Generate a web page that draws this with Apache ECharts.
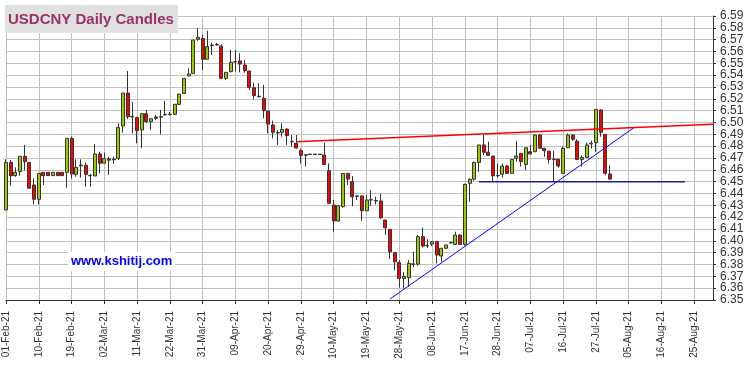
<!DOCTYPE html>
<html>
<head>
<meta charset="utf-8">
<script src="https://cdn.jsdelivr.net/npm/echarts@6/dist/echarts.min.js"></script>
<style>
html,body{margin:0;padding:0;background:#ffffff;}
#chart{width:750px;height:366px;}
</style>
</head>
<body>
<div id="chart"></div>
<script>
// ---- data ----
const startDate = '2021-02-01';   // first trading day (weekdays only)
const categoryCount = 152;         // weekdays shown on the axis
const titleText = 'USDCNY Daily Candles';
const watermarkText = 'www.kshitij.com';

const openValues = [
6.4261,6.4663,6.4551,6.4585,6.4714,6.4663,6.4472,6.4351,6.4579,6.4579,
6.4551,6.4579,6.4579,6.4579,6.4866,6.4562,6.4634,6.4638,6.4553,6.4548,
6.4734,6.4656,6.4693,6.4690,6.4697,6.4970,6.5249,6.5051,6.5043,6.4937,
6.5075,6.5007,6.5047,6.5045,6.5064,6.5068,6.5070,6.5153,6.5245,6.5393,
6.5415,6.5703,6.5710,6.5534,6.5650,6.5655,6.5646,6.5373,6.5430,6.5512,
6.5520,6.5486,6.5435,6.5294,6.5222,6.5204,6.5097,6.4979,6.4915,6.4917,
6.4945,6.4840,6.4824,6.4762,6.4727,6.4733,6.4733,6.4733,6.4725,6.4593,
6.4302,6.4168,6.4289,6.4570,6.4500,6.4379,6.4379,6.4254,6.4345,6.4340,
6.4337,6.4176,6.4097,6.3900,6.3818,6.3682,6.3689,6.3800,6.3803,6.4035,
6.3962,6.3973,6.3993,6.3872,6.3937,6.3984,6.3970,6.4049,6.3970,6.4486,
6.4521,6.4663,6.4810,6.4749,6.4716,6.4553,6.4563,6.4632,6.4570,6.4697,
6.4739,6.4646,6.4753,6.4753,6.4894,6.4782,6.4758,6.4690,6.4689,6.4570,
6.4787,6.4894,6.4843,6.4688,6.4705,6.4819,6.4830,6.5106,6.4900,6.4565
];
const highValues = [
6.4689,6.4683,6.4621,6.4714,6.4810,6.4663,6.4528,6.4570,6.4579,6.4579,
6.4579,6.4579,6.4579,6.4866,6.4880,6.4689,6.4689,6.4663,6.4565,6.4818,
6.4753,6.4745,6.4710,6.4710,6.4993,6.5249,6.5435,6.5173,6.5047,6.5075,
6.5105,6.5032,6.5063,6.5105,6.5182,6.5090,6.5154,6.5241,6.5373,6.5458,
6.5697,6.5796,6.5740,6.5775,6.5674,6.5674,6.5660,6.5424,6.5613,6.5613,
6.5585,6.5528,6.5435,6.5337,6.5331,6.5317,6.5097,6.5015,6.4937,6.4993,
6.4950,6.4894,6.4894,6.4781,6.4730,6.4733,6.4733,6.4733,6.4830,6.4654,
6.4345,6.4297,6.4570,6.4570,6.4548,6.4382,6.4382,6.4387,6.4430,6.4373,
6.4396,6.4176,6.4097,6.3900,6.3838,6.3734,6.3838,6.3908,6.4049,6.4111,
6.4013,6.3993,6.3995,6.3937,6.3965,6.3990,6.4077,6.4055,6.4483,6.4529,
6.4670,6.4810,6.4894,6.4838,6.4716,6.4654,6.4654,6.4640,6.4688,6.4844,
6.4739,6.4787,6.4810,6.4900,6.4900,6.4785,6.4760,6.4762,6.4695,6.4796,
6.4908,6.4900,6.4858,6.4725,6.4830,6.4845,6.5111,6.5110,6.4900,6.4638
];
const lowValues = [
6.4261,6.4466,6.4542,6.4551,6.4596,6.4444,6.4308,6.4308,6.4472,6.4551,
6.4551,6.4551,6.4551,6.4449,6.4528,6.4542,6.4535,6.4458,6.4458,6.4548,
6.4570,6.4656,6.4556,6.4650,6.4683,6.4914,6.5030,6.4908,6.4824,6.4782,
6.4995,6.4937,6.5020,6.4899,6.5060,6.5058,6.5064,6.5153,6.5245,6.5390,
6.5415,6.5690,6.5444,6.5534,6.5570,6.5650,6.5373,6.5360,6.5424,6.5430,
6.5424,6.5421,6.5275,6.5196,6.5210,6.5035,6.4908,6.4866,6.4810,6.4880,
6.4810,6.4795,6.4781,6.4654,6.4627,6.4727,6.4727,6.4727,6.4640,6.4310,
6.4077,6.4160,6.4280,6.4472,6.4294,6.4345,6.4170,6.4250,6.4297,6.4308,
6.4185,6.4050,6.3846,6.3750,6.3606,6.3599,6.3613,6.3780,6.3790,6.3945,
6.3940,6.3955,6.3810,6.3824,6.3930,6.3975,6.3965,6.3965,6.3960,6.4331,
6.4508,6.4584,6.4725,6.4718,6.4495,6.4535,6.4535,6.4565,6.4565,6.4668,
6.4627,6.4598,6.4730,6.4750,6.4780,6.4711,6.4654,6.4505,6.4618,6.4570,
6.4785,6.4845,6.4682,6.4627,6.4700,6.4780,6.4753,6.4880,6.4555,6.4515
];
const closeValues = [
6.4663,6.4551,6.4579,6.4714,6.4669,6.4444,6.4351,6.4570,6.4551,6.4551,
6.4579,6.4551,6.4551,6.4866,6.4565,6.4621,6.4640,6.4562,6.4550,6.4734,
6.4656,6.4697,6.4682,6.4685,6.4959,6.5249,6.5049,6.5047,6.4931,6.5075,
6.5007,6.5032,6.5036,6.5050,6.5068,6.5070,6.5154,6.5241,6.5373,6.5410,
6.5697,6.5720,6.5534,6.5641,6.5655,6.5660,6.5373,6.5424,6.5509,6.5515,
6.5494,6.5438,6.5297,6.5227,6.5218,6.5100,6.4987,6.4917,6.4912,6.4942,
6.4889,6.4837,6.4784,6.4722,6.4724,6.4729,6.4729,6.4729,6.4646,6.4317,
6.4168,6.4297,6.4570,6.4522,6.4373,6.4376,6.4254,6.4345,6.4348,6.4337,
6.4196,6.4111,6.3908,6.3824,6.3682,6.3700,6.3810,6.3806,6.4035,6.3956,
6.3959,6.3993,6.3880,6.3937,6.3965,6.3987,6.4049,6.3970,6.4477,6.4520,
6.4663,6.4810,6.4748,6.4722,6.4550,6.4550,6.4632,6.4570,6.4688,6.4716,
6.4669,6.4787,6.4734,6.4894,6.4782,6.4762,6.4688,6.4686,6.4632,6.4782,
6.4894,6.4858,6.4688,6.4705,6.4810,6.4824,6.5111,6.4917,6.4571,6.4522
];

// trend lines: [category index, price]
const resistanceLine = [[62, 6.4838], [151, 6.4985]];
const risingSupportLine = [[82, 6.3508], [134, 6.4953]];
const horizontalSupportLine = [[101, 6.45], [145, 6.45]];

const yMin = 6.35, yMax = 6.59, yStep = 0.01;
const labelEvery = 7;

// ---- build categories (weekdays) ----
const monthNames = ['Jan','Feb','Mar','Apr','May','Jun','Jul','Aug','Sep','Oct','Nov','Dec'];
function buildCategories(start, n) {
  const out = [];
  const d = new Date(start + 'T00:00:00Z');
  while (out.length < n) {
    const wd = d.getUTCDay();
    if (wd !== 0 && wd !== 6) {
      const dd = String(d.getUTCDate()).padStart(2, '0');
      const yy = String(d.getUTCFullYear()).slice(2);
      out.push(dd + '-' + monthNames[d.getUTCMonth()] + '-' + yy);
    }
    d.setUTCDate(d.getUTCDate() + 1);
  }
  return out;
}
const categories = buildCategories(startDate, categoryCount);
const candleData = openValues.map((o, i) => [o, closeValues[i], lowValues[i], highValues[i]]);

const chart = echarts.init(document.getElementById('chart'), null, {renderer: 'canvas'});
const font = "Arial, 'Liberation Sans', sans-serif";
chart.setOption({
  animation: false,
  backgroundColor: '#ffffff',
  title: [{
    text: titleText,
    left: 5, top: 5,
    backgroundColor: '#e0e0e0',
    padding: [7, 4, 6, 3],
    textStyle: {color: '#993366', fontSize: 15, fontWeight: 'bold', fontFamily: font}
  }, {
    text: watermarkText,
    left: 68, top: 252,
    backgroundColor: '#ffffff',
    padding: [3, 3, 3, 3],
    textStyle: {color: '#0000ff', fontSize: 13, fontWeight: 'bold', fontFamily: font}
  }],
  grid: {left: 6, right: 37, top: 16, bottom: 66, containLabel: false},
  xAxis: {
    type: 'category',
    data: categories,
    boundaryGap: false,
    axisLine: {show: true, lineStyle: {color: '#333333', width: 1}},
    axisTick: {show: true, interval: labelEvery - 1, length: 4, lineStyle: {color: '#333333'}},
    axisLabel: {interval: labelEvery - 1, rotate: 90, margin: 11, fontSize: 10, color: '#333333', fontFamily: font},
    splitLine: {show: true, interval: labelEvery - 1, lineStyle: {color: '#c0c0c0', width: 1}}
  },
  yAxis: {
    type: 'value',
    position: 'right',
    min: yMin, max: yMax, interval: yStep,
    axisLine: {show: true, lineStyle: {color: '#333333', width: 1}},
    axisTick: {show: true, length: 3, lineStyle: {color: '#333333'}},
    axisLabel: {margin: 7, fontSize: 12, color: '#333333', fontFamily: font,
      formatter: v => v.toFixed(2)},
    splitLine: {show: true, lineStyle: {color: '#c0c0c0', width: 1}}
  },
  series: [{
    type: 'candlestick',
    data: candleData,
    barWidth: 3.5,
    clip: false,
    itemStyle: {
      color: '#99cc00', color0: '#ff0000',
      borderColor: '#333333', borderColor0: '#333333', borderWidth: 1
    }
  }, {
    type: 'line', data: resistanceLine, symbol: 'none', silent: true,
    lineStyle: {color: '#ff0000', width: 1.5}
  }, {
    type: 'line', data: risingSupportLine, symbol: 'none', silent: true,
    lineStyle: {color: '#0000ff', width: 1}
  }, {
    type: 'line', data: horizontalSupportLine, symbol: 'none', silent: true,
    lineStyle: {color: '#1a1aa8', width: 1.5}
  }]
});
</script>
</body>
</html>
